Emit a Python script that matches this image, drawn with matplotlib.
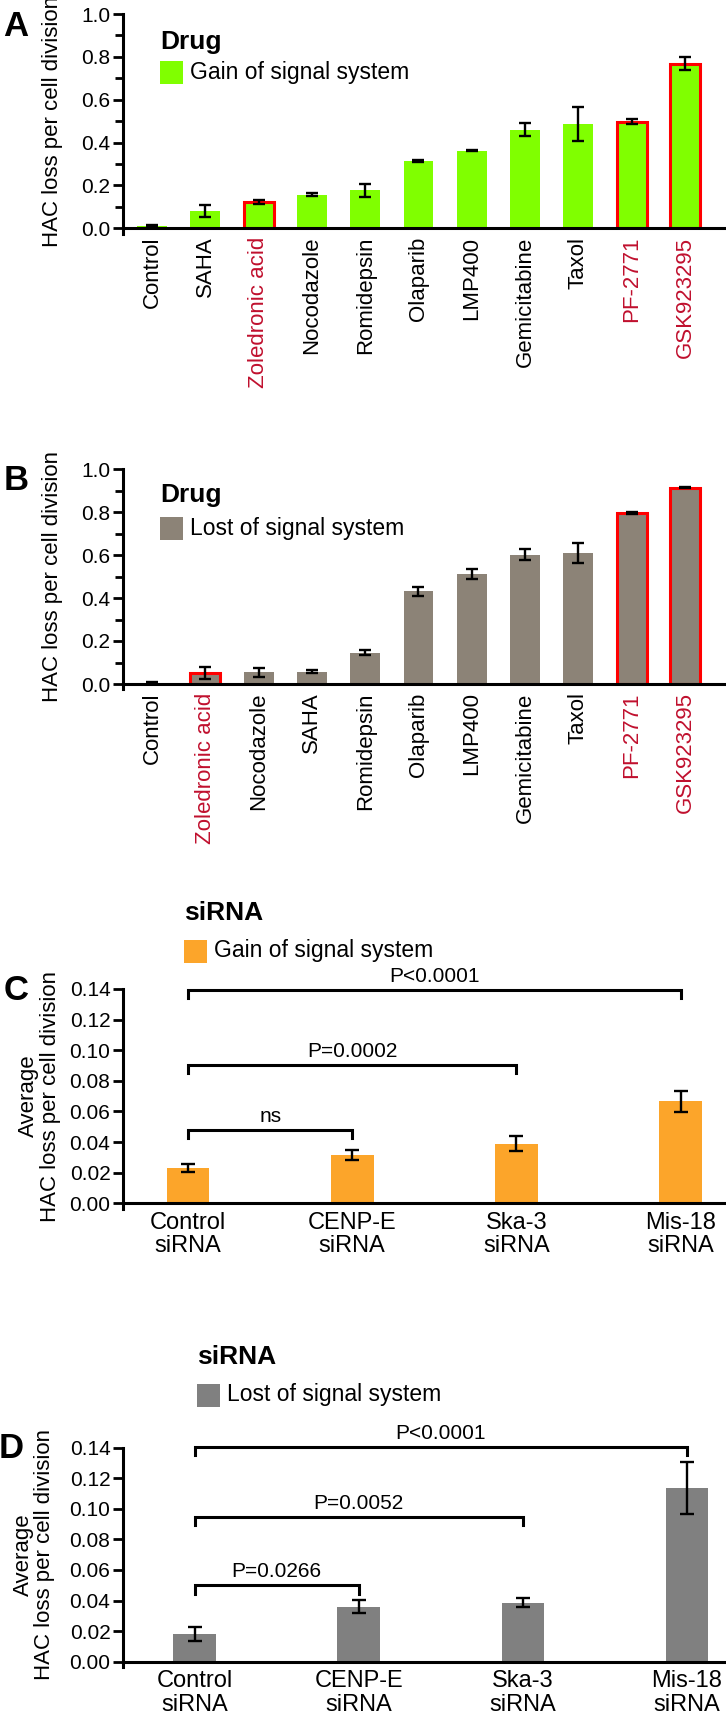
import matplotlib
matplotlib.use('Agg')
import matplotlib.pyplot as plt
from matplotlib.patches import Rectangle

plt.rcParams['font.family'] = ['Liberation Sans', 'DejaVu Sans']

# ---- data ----
drugs_gain = ['Control', 'SAHA', 'Zoledronic acid', 'Nocodazole', 'Romidepsin', 'Olaparib',
              'LMP400', 'Gemicitabine', 'Taxol', 'PF-2771', 'GSK923295']
hac_gain = [0.012, 0.082, 0.122, 0.157, 0.177, 0.314, 0.363, 0.460, 0.488, 0.498, 0.769]
err_gain = [0.003, 0.028, 0.009, 0.008, 0.032, 0.003, 0.003, 0.030, 0.080, 0.011, 0.030]

drugs_lost = ['Control', 'Zoledronic acid', 'Nocodazole', 'SAHA', 'Romidepsin', 'Olaparib',
              'LMP400', 'Gemicitabine', 'Taxol', 'PF-2771', 'GSK923295']
hac_lost = [0.006, 0.052, 0.054, 0.057, 0.145, 0.431, 0.512, 0.602, 0.608, 0.797, 0.913]
err_lost = [0.002, 0.028, 0.020, 0.007, 0.011, 0.022, 0.025, 0.025, 0.047, 0.004, 0.003]

highlight = ['Zoledronic acid', 'PF-2771', 'GSK923295']

sirna = ['Control\nsiRNA', 'CENP-E\nsiRNA', 'Ska-3\nsiRNA', 'Mis-18\nsiRNA']
sirna_gain = [0.0232, 0.0316, 0.0390, 0.0666]
sirna_gain_err = [0.0025, 0.0033, 0.0050, 0.0068]
sirna_lost = [0.0180, 0.0360, 0.0387, 0.1137]
sirna_lost_err = [0.0047, 0.0043, 0.0027, 0.0170]

# brackets: (i, j, y, label)
brackets_gain = [(0, 1, 0.048, 'ns'), (0, 2, 0.0904, 'P=0.0002'), (0, 3, 0.1394, 'P<0.0001')]
brackets_lost = [(0, 1, 0.050, 'P=0.0266'), (0, 2, 0.0948, 'P=0.0052'), (0, 3, 0.1405, 'P<0.0001')]

GREEN = '#80FF00'
BROWN = '#8C8377'
ORANGE = '#FCA52A'
GRAY = '#808080'
RED = '#FF0000'
DARKRED = '#C0102E'

W, H = 726, 1714
fig = plt.figure(figsize=(W / 100, H / 100), dpi=100)


def px_axes(l, t, r, b):
    return fig.add_axes([l / W, 1 - b / H, (r - l) / W, (b - t) / H])


def style_axes(ax, low):
    for s in ['top', 'right']:
        ax.spines[s].set_visible(False)
    for s in ['left', 'bottom']:
        ax.spines[s].set_linewidth(2.2)
    # y spine pokes a little below the x axis, as in the original
    ax.spines['left'].set_bounds(low, ax.get_ylim()[1])
    ax.tick_params(axis='y', which='major', length=7, width=2, labelsize=15, pad=2)
    ax.tick_params(axis='y', which='minor', length=6, width=2)
    ax.tick_params(axis='x', length=0)


def legend_block(title, label, color, x, y_title, y_patch):
    fig.text(x / W, 1 - y_title / H, title, fontsize=19, fontweight='bold',
             ha='left', va='baseline')
    fig.add_artist(Rectangle((x / W, 1 - (y_patch + 11.5) / H), 23 / W, 23 / H,
                             transform=fig.transFigure, facecolor=color, edgecolor='none'))
    fig.text((x + 30) / W, 1 - y_patch / H, label, fontsize=16.5, ha='left', va='center')


def drug_panel(ax, names, vals, errs, color):
    x = list(range(len(names)))
    edges = [RED if n in highlight else 'none' for n in names]
    ax.bar(x, vals, width=0.56, color=color, edgecolor=edges, linewidth=2.2, zorder=2)
    ax.errorbar(x, vals, yerr=errs, fmt='none', ecolor='black', elinewidth=1.7,
                capsize=4.5, capthick=1.7, zorder=3)
    ax.set_xlim(-0.544, 10.77)
    ax.set_ylim(0, 1.0)
    ax.set_yticks([0, 0.2, 0.4, 0.6, 0.8, 1.0])
    ax.set_yticks([0.1, 0.3, 0.5, 0.7, 0.9], minor=True)
    ax.set_yticklabels(['0.0', '0.2', '0.4', '0.6', '0.8', '1.0'])
    ax.set_xticks(x)
    ax.set_xticklabels(names, rotation=90, fontsize=16, va='top', ha='center')
    for lab, n in zip(ax.get_xticklabels(), names):
        if n in highlight:
            lab.set_color(DARKRED)
    style_axes(ax, -0.025)
    ax.tick_params(axis='x', pad=6)
    ax.set_ylabel('HAC loss per cell division', fontsize=16)
    ax.yaxis.set_label_coords(-0.1, 0.5)


def sirna_panel(ax, vals, errs, color, brackets, xlim, lab_x):
    x = list(range(len(sirna)))
    ax.bar(x, vals, width=0.26, color=color, zorder=2)
    ax.errorbar(x, vals, yerr=errs, fmt='none', ecolor='black', elinewidth=1.7,
                capsize=5, capthick=1.7, zorder=3)
    ax.set_xlim(*xlim)
    ax.set_ylim(0, 0.14)
    ax.set_yticks([0.0, 0.02, 0.04, 0.06, 0.08, 0.10, 0.12, 0.14])
    ax.set_yticklabels(['0.00', '0.02', '0.04', '0.06', '0.08', '0.10', '0.12', '0.14'])
    ax.set_xticks(x)
    ax.set_xticklabels(sirna, fontsize=17, linespacing=1.1)
    style_axes(ax, -0.0035)
    ax.tick_params(axis='x', pad=6)
    ax.set_ylabel('Average\nHAC loss per cell division', fontsize=16, linespacing=1.05)
    ax.yaxis.set_label_coords(lab_x, 0.5)
    for i, j, y, txt in brackets:
        ax.plot([i, i, j, j], [y - 0.0055, y, y, y - 0.0055], color='black', lw=2.2,
                clip_on=False, solid_joinstyle='miter')
        ax.text((i + j) / 2, y + 0.0052, txt, ha='center', va='baseline', fontsize=15,
                clip_on=False)


axA = px_axes(123, 14, 726, 228.3)
drug_panel(axA, drugs_gain, hac_gain, err_gain, GREEN)
legend_block('Drug', 'Gain of signal system', GREEN, 160, 49, 72.5)

axB = px_axes(123, 469, 726, 684)
drug_panel(axB, drugs_lost, hac_lost, err_lost, BROWN)
legend_block('Drug', 'Lost of signal system', BROWN, 160, 502, 528.5)

axC = px_axes(123, 989, 726, 1203.3)
sirna_panel(axC, sirna_gain, sirna_gain_err, ORANGE, brackets_gain, (-0.396, 3.276), -0.103)
legend_block('siRNA', 'Gain of signal system', ORANGE, 184, 920, 951)

axD = px_axes(123, 1447.7, 726, 1661.7)
sirna_panel(axD, sirna_lost, sirna_lost_err, GRAY, brackets_lost, (-0.437, 3.238), -0.112)
legend_block('siRNA', 'Lost of signal system', GRAY, 197, 1364, 1395)

for letter, (lx, ly) in zip('ABCD', [(16, 27), (16, 480), (16, 990), (11, 1448)]):
    fig.text(lx / W, 1 - ly / H, letter, fontsize=25, fontweight='bold', ha='center', va='center')

fig.savefig('out.png', dpi=100)
